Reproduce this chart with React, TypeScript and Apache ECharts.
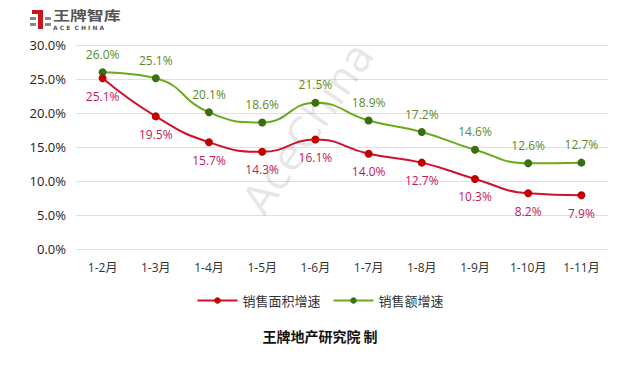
import React, { useEffect, useRef } from "react";
import * as echarts from "echarts";

const categories = ["1-2月", "1-3月", "1-4月", "1-5月", "1-6月", "1-7月", "1-8月", "1-9月", "1-10月", "1-11月"];
const areaGrowth = [25.1, 19.5, 15.7, 14.3, 16.1, 14.0, 12.7, 10.3, 8.2, 7.9];
const salesGrowth = [26.0, 25.1, 20.1, 18.6, 21.5, 18.9, 17.2, 14.6, 12.6, 12.7];
const seriesNames = ["销售面积增速", "销售额增速"];
const FONT = "'Open Sans', 'Noto Sans CJK SC', sans-serif";

export default function App() {
  const ref = useRef<HTMLDivElement>(null);
  useEffect(() => {
    const chart = echarts.init(ref.current!, null, { renderer: "svg" });
    chart.setOption({
      animation: false,
      backgroundColor: "#fff",
      grid: { left: 76, right: 32, top: 45, bottom: 116 },
      legend: {
        data: seriesNames,
        top: 289,
        left: "center",
        itemWidth: 40,
        itemHeight: 8,
        itemGap: 12,
        textStyle: { fontFamily: FONT, fontSize: 13, color: "#333" },
      },
      xAxis: {
        type: "category",
        data: categories,
        axisLine: { show: false },
        axisTick: { show: false },
        axisLabel: { fontFamily: FONT, fontSize: 12, color: "#333", margin: 12 },
      },
      yAxis: {
        type: "value",
        min: 0,
        max: 30,
        interval: 5,
        axisLabel: { fontFamily: FONT, fontSize: 13, color: "#222", margin: 10, formatter: (v: number) => v.toFixed(1) + "%" },
        splitLine: { lineStyle: { color: "#e0e0e0", width: 1 } },
        axisLine: { show: false },
        axisTick: { show: false },
      },
      series: [
        {
          name: seriesNames[0],
          type: "line",
          smooth: true,
          data: areaGrowth,
          symbol: "circle",
          symbolSize: 8,
          lineStyle: { color: "#d0112b", width: 2 },
          itemStyle: { color: "#c00000" },
          label: {
            show: true,
            position: "bottom",
            distance: 8,
            formatter: (p: any) => p.value.toFixed(1) + "%",
            color: "#c2185b",
            fontFamily: FONT,
            fontSize: 12,
          },
          z: 3,
        },
        {
          name: seriesNames[1],
          type: "line",
          smooth: true,
          data: salesGrowth,
          symbol: "circle",
          symbolSize: 8,
          lineStyle: { color: "#6aab1e", width: 2 },
          itemStyle: { color: "#3b6e0e" },
          label: {
            show: true,
            position: "top",
            distance: 8,
            formatter: (p: any) => p.value.toFixed(1) + "%",
            color: "#5b8c2a",
            fontFamily: FONT,
            fontSize: 12,
          },
          z: 2,
        },
      ],
      graphic: [
        // logo icon
        { type: "rect", shape: { x: 32, y: 10, width: 10, height: 4 }, style: { fill: "#c8161d" } },
        { type: "rect", shape: { x: 38, y: 10, width: 5, height: 19 }, style: { fill: "#c8161d" } },
        { type: "rect", shape: { x: 30, y: 17, width: 6, height: 3 }, style: { fill: "#888" } },
        { type: "rect", shape: { x: 30, y: 23, width: 6, height: 3 }, style: { fill: "#888" } },
        { type: "rect", shape: { x: 45, y: 17, width: 6, height: 3 }, style: { fill: "#888" } },
        { type: "rect", shape: { x: 45, y: 23, width: 6, height: 3 }, style: { fill: "#888" } },
        {
          type: "text",
          x: 53,
          y: 8,
          scaleX: 1.3,
          style: { text: "王牌智库", fontFamily: "'Noto Sans CJK SC', sans-serif", fontSize: 13, fontWeight: "bold", fill: "#555", verticalAlign: "top" },
        },
        {
          type: "text",
          x: 53,
          y: 24,
          style: { text: "A C E  C H I N A", fontFamily: "'DejaVu Sans', sans-serif", fontSize: 6, fontWeight: "bold", fill: "#555", verticalAlign: "top" },
        },
        // watermark
        {
          type: "text",
          x: 308,
          y: 128,
          rotation: 0.97,
          style: {
            text: "AceChina",
            fontFamily: "'DejaVu Sans', sans-serif",
            fontSize: 42,
            fill: "rgba(0,0,0,0.1)",
            align: "center",
            verticalAlign: "middle",
          },
          z: 1,
        },
        {
          type: "text",
          left: "center",
          top: 329,
          style: { text: "王牌地产研究院 制", fontFamily: "'Noto Sans CJK SC', sans-serif", fontSize: 14, fontWeight: "bold", fill: "#111" },
        },
      ],
    });
    return () => chart.dispose();
  }, []);
  return <div ref={ref} style={{ width: 640, height: 365, position: "absolute", left: 0, top: 0 }} />;
}
